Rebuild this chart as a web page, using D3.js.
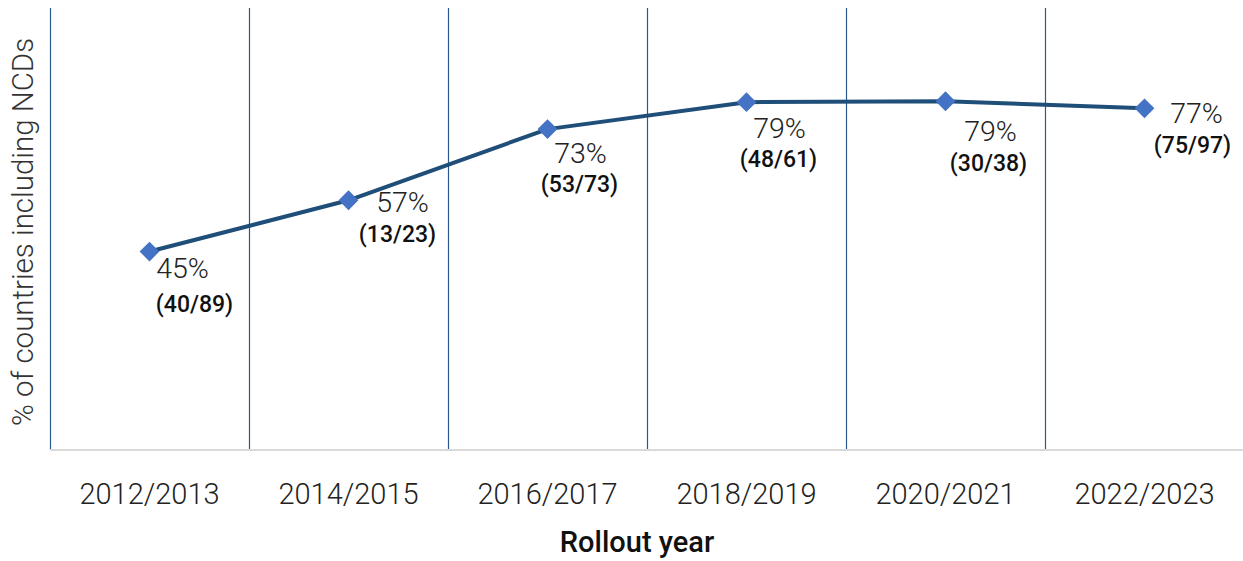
<!DOCTYPE html>
<html>
<head>
<meta charset="utf-8">
<script src="https://cdn.jsdelivr.net/npm/d3@7"></script>
<style>
  body { margin: 0; background: #fff; }
  text { font-family: Roboto, "Open Sans", sans-serif; }
</style>
</head>
<body>
<div id="chart"></div>
<script>
// chart data
var years = ["2012/2013", "2014/2015", "2016/2017", "2018/2019", "2020/2021", "2022/2023"];
var percent = [44.9, 56.5, 72.6, 78.7, 78.9, 77.3];
var pctLabels = ["45%", "57%", "73%", "79%", "79%", "77%"];
var fracLabels = ["(40/89)", "(13/23)", "(53/73)", "(48/61)", "(30/38)", "(75/97)"];

// label placement, relative to each point (Excel-style manual nudges)
var labelOffsets = [
    { dx: 33, dy: 26, fdx: 45, fdy: 60 },
    { dx: 54, dy: 12, fdx: 49, fdy: 42 },
    { dx: 33, dy: 34, fdx: 32, fdy: 63 },
    { dx: 33, dy: 36, fdx: 32, fdy: 65 },
    { dx: 45, dy: 40, fdx: 43, fdy: 70 },
    { dx: 52, dy: 15, fdx: 48, fdy: 45 }
];

var margin = { top: 8, right: 0, bottom: 111, left: 50 },
    width = 1194,
    height = 561 - margin.top - margin.bottom;

var svg = d3.select("#chart")
    .append("svg")
    .attr("width", 1243)
    .attr("height", 561)
    .append("g")
    .attr("transform", "translate(" + margin.left + "," + margin.top + ")");

var x = d3.scaleBand()
    .domain(years)
    .range([0, width]);

var y = d3.scaleLinear()
    .domain([0, 100])
    .range([height, 0]);

// vertical separators between categories
svg.selectAll(".sep")
    .data(years)
    .enter()
    .append("line")
    .attr("class", "sep")
    .attr("x1", function (d) { return Math.round(x(d)) + 0.5; })
    .attr("x2", function (d) { return Math.round(x(d)) + 0.5; })
    .attr("y1", 0)
    .attr("y2", height)
    .attr("stroke", "#2a5a8c")
    .attr("stroke-width", 1.2);

// baseline
svg.append("line")
    .attr("x1", 0)
    .attr("x2", width)
    .attr("y1", height)
    .attr("y2", height)
    .attr("stroke", "#d9d9d9")
    .attr("stroke-width", 2);

// x axis tick labels
var xAxis = svg.append("g")
    .attr("transform", "translate(0," + height + ")")
    .call(d3.axisBottom(x).tickSize(0).tickPadding(0));
xAxis.select(".domain").remove();
xAxis.selectAll("text")
    .attr("y", 54)
    .attr("dy", null)
    .style("font-family", "Roboto, sans-serif")
    .style("font-size", "29px")
    .style("font-weight", 300)
    .attr("fill", "#222");

// axis titles
svg.append("text")
    .attr("x", 587)
    .attr("y", height + 102)
    .attr("text-anchor", "middle")
    .style("font-size", "29px")
    .style("font-weight", 500)
    .attr("fill", "#111")
    .text("Rollout year");

svg.append("text")
    .attr("transform", "rotate(-90)")
    .attr("x", -224)
    .attr("y", -17)
    .attr("text-anchor", "middle")
    .style("font-size", "29.5px")
    .style("font-weight", 300)
    .attr("fill", "#333")
    .text("% of countries including NCDs");

var data = years.map(function (d, i) { return { year: d, value: percent[i], i: i }; });

var line = d3.line()
    .x(function (d) { return x(d.year) + x.bandwidth() / 2; })
    .y(function (d) { return y(d.value); });

svg.append("path")
    .datum(data)
    .attr("fill", "none")
    .attr("stroke", "#1f4e79")
    .attr("stroke-width", 4)
    .attr("stroke-linejoin", "round")
    .attr("d", line);

// diamond markers
svg.selectAll(".marker")
    .data(data)
    .enter()
    .append("rect")
    .attr("class", "marker")
    .attr("x", -7)
    .attr("y", -7)
    .attr("width", 14)
    .attr("height", 14)
    .attr("fill", "#4472c4")
    .attr("transform", function (d) {
        return "translate(" + (x(d.year) + x.bandwidth() / 2) + "," + y(d.value) + ") rotate(45)";
    });

// data labels
svg.selectAll(".pct")
    .data(data)
    .enter()
    .append("text")
    .attr("class", "pct")
    .attr("x", function (d) { return x(d.year) + x.bandwidth() / 2 + labelOffsets[d.i].dx; })
    .attr("y", function (d) { return y(d.value) + labelOffsets[d.i].dy; })
    .attr("text-anchor", "middle")
    .style("font-size", "28.5px")
    .style("font-weight", 300)
    .attr("fill", "#222")
    .text(function (d) { return pctLabels[d.i]; });

svg.selectAll(".frac")
    .data(data)
    .enter()
    .append("text")
    .attr("class", "frac")
    .attr("x", function (d) { return x(d.year) + x.bandwidth() / 2 + labelOffsets[d.i].fdx; })
    .attr("y", function (d) { return y(d.value) + labelOffsets[d.i].fdy; })
    .attr("text-anchor", "middle")
    .style("font-size", "23px")
    .style("font-weight", 500)
    .attr("fill", "#111")
    .text(function (d) { return fracLabels[d.i]; });
</script>
</body>
</html>
